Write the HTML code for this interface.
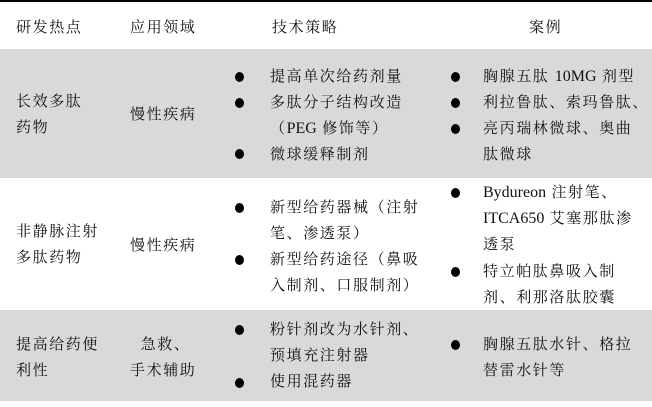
<!DOCTYPE html>
<html><head><meta charset="utf-8"><style>
body{margin:0;width:652px;height:407px;background:#fff;position:relative;overflow:hidden;font-family:"Liberation Serif","Noto Serif CJK SC",serif;font-size:15px;color:#111}
.g{position:absolute;left:0;width:652px;background:#d9d9d9}
.t{position:absolute;line-height:26px;white-space:nowrap;letter-spacing:1.6px}
.l{letter-spacing:0;font-size:16px}
.b{position:absolute;width:9px;height:10px;border-radius:50%;background:#000}
</style></head><body>
<div style="position:absolute;left:0;top:0;width:652px;height:2px;background:#000"></div>
<div class="g" style="top:49px;height:129px"></div>
<div class="g" style="top:310px;height:91px"></div>

<div class="t" style="left:16px;top:15px">研发热点</div>
<div class="t" style="left:130px;top:15px">应用领域</div>
<div class="t" style="left:272px;top:15px">技术策略</div>
<div class="t" style="left:529px;top:15px">案例</div>

<div class="t" style="left:16px;top:89px">长效多肽<br>药物</div>
<div class="t" style="left:130px;top:102px">慢性疾病</div>
<div class="b" style="left:235px;top:72px"></div>
<div class="b" style="left:235px;top:98px"></div>
<div class="b" style="left:235px;top:149px"></div>
<div class="t" style="left:270px;top:64px">提高单次给药剂量<br>多肽分子结构改造<br>（<span class="l">PEG</span> 修饰等）<br>微球缓释制剂</div>
<div class="b" style="left:451px;top:72px"></div>
<div class="b" style="left:451px;top:98px"></div>
<div class="b" style="left:451px;top:124px"></div>
<div class="t" style="left:483px;top:64px">胸腺五肽 <span class="l">10MG</span> 剂型<br>利拉鲁肽、索玛鲁肽、<br>亮丙瑞林微球、奥曲<br>肽微球</div>

<div class="t" style="left:16px;top:219px">非静脉注射<br>多肽药物</div>
<div class="t" style="left:130px;top:233px">慢性疾病</div>
<div class="b" style="left:235px;top:203px"></div>
<div class="b" style="left:235px;top:255px"></div>
<div class="t" style="left:270px;top:195px">新型给药器械（注射<br>笔、渗透泵）<br>新型给药途径（鼻吸<br>入制剂、口服制剂）</div>
<div class="b" style="left:451px;top:188px"></div>
<div class="b" style="left:451px;top:267px"></div>
<div class="t" style="left:483px;top:180px"><span class="l">Bydureon</span> 注射笔、<br><span class="l">ITCA650</span> 艾塞那肽渗<br>透泵</div>
<div class="t" style="left:483px;top:259px">特立帕肽鼻吸入制<br>剂、利那洛肽胶囊</div>

<div class="t" style="left:16px;top:332px">提高给药便<br>利性</div>
<div class="t" style="left:130px;top:332px">&nbsp;&nbsp;急救、<br>手术辅助</div>
<div class="b" style="left:235px;top:325px"></div>
<div class="b" style="left:235px;top:378px"></div>
<div class="t" style="left:270px;top:317px">粉针剂改为水针剂、<br>预填充注射器<br>使用混药器</div>
<div class="b" style="left:451px;top:340px"></div>
<div class="t" style="left:483px;top:332px">胸腺五肽水针、格拉<br>替雷水针等</div>
</body></html>
